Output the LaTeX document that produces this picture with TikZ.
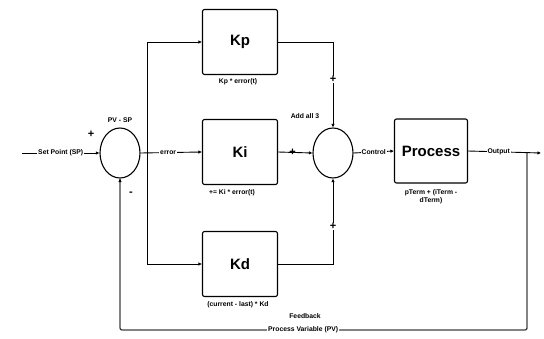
\documentclass[tikz,border=0pt]{standalone}
\usepackage{fontspec}
\setmainfont{Liberation Sans}
\usetikzlibrary{arrows.meta,shapes.geometric}
\begin{document}
\begin{tikzpicture}[x=1pt,y=-1pt,
  blk/.style={draw,line width=1.1pt,rounded corners=2pt,minimum width=75pt,minimum height=65pt,font=\fontsize{15}{16}\selectfont\bfseries},
  sum/.style={draw,line width=1.1pt,ellipse,minimum width=40pt,minimum height=50pt,inner sep=0pt},
  lbl/.style={font=\fontsize{6.8}{7.8}\selectfont\bfseries,inner sep=1pt},
  onl/.style={lbl,fill=white},
  sgn/.style={font=\fontsize{11}{12}\selectfont\bfseries,inner sep=0pt},
  wire/.style={line width=0.9pt},
  arr/.style={wire,-{Latex[length=3.5pt,width=3.5pt]}},
  fb/.style={line width=1.3pt,draw=black!75}]
\useasboundingbox (0,0) rectangle (544,339);
\node[sum] (s1) at (120,153) {};
\node[sum] (s2) at (333,153) {};
\node[blk] (kp) at (240,42) {Kp};
\node[blk] (ki) at (240,152) {Ki};
\node[blk] (kd) at (240,264) {Kd};
\node[blk,minimum width=73pt,minimum height=64pt] (pr) at (431,151) {Process};
\coordinate (sp) at (22,153);
\coordinate (br) at (147,153);
\coordinate (out) at (541,153);
\coordinate (fbx) at (527,153);
% texts
\node[lbl] (pvsp) at (120,120) {PV - SP};
\node[sgn] (plus1) at (91,134) {+};
\node[sgn] (minus1) at (131,194) {-};
\node[lbl] (kpc) at (238,82) {Kp * error(t)};
\node[lbl] (kic) at (232,193) {+= Ki * error(t)};
\node[lbl] (kdc) at (238,305) {(current - last) * Kd};
\node[lbl] (add) at (305,116) {Add all 3};
\node[lbl,align=center] (prc) at (431,197) {pTerm + (iTerm -\\dTerm)};
% set point
\draw[arr] (sp) -- node[onl] {Set Point (SP)} (s1.west);
% error branch
\draw[arr] (s1.east) -- node[onl,pos=0.45] {error} (ki.west);
\draw[arr] (br) |- (kp.west);
\draw[arr] (br) |- (kd.west);
% to sum
\draw[arr] (kp.east) -| node[sgn,pos=0.72,fill=white] (pp) {+} (s2.north);
\draw[arr] (ki.east) -- node[sgn,pos=0.42] (pi) {+} (s2.west);
\draw[arr] (kd.east) -| node[sgn,pos=0.72,fill=white] (pd) {+} (s2.south);
% control
\draw[arr] (s2.east) -- node[onl] {Control} (pr.west);
% output
\draw[arr] (pr.east) -- node[onl,pos=0.42] {Output} (out);
% feedback
\coordinate (c1) at (527,330);
\coordinate (c2) at (120,330);
\draw[fb,rounded corners=2pt] (fbx) -- (c1) -- node[onl,pos=0.55,draw=none] (pvl) {Process Variable (PV)} (c2) -- (s1.south);
\draw[arr] (120,180) -- (s1.south);
\node[lbl] (fbl) at (305,316) {Feedback};
\end{tikzpicture}
\end{document}
